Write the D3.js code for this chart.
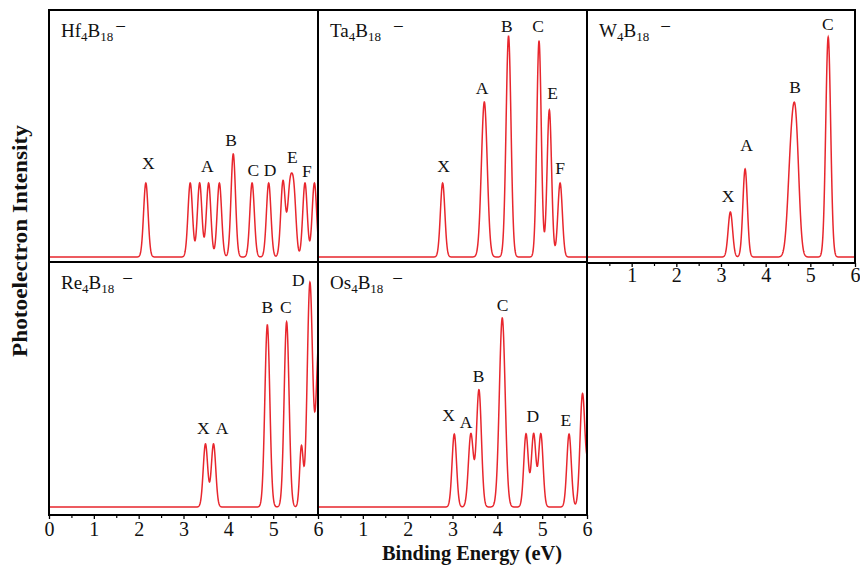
<!DOCTYPE html>
<html><head><meta charset="utf-8">
<script src="https://cdn.jsdelivr.net/npm/d3@7"></script>
<style>
body{margin:0;background:#fff}
svg{display:block}
text{font-family:"Liberation Serif","Times New Roman",serif;fill:#111}
</style>
</head><body>
<svg id="chart" width="860" height="566"></svg>
<script>
// ---------------- data (energy in eV, intensity in arbitrary units, gaussian width sigma in eV)
const metals = ["Hf", "Ta", "W", "Re", "Os"];
const energyTicks = [0, 1, 2, 3, 4, 5, 6];
const minorTicks = [0.5, 1.5, 2.5, 3.5, 4.5, 5.5];

const hfPeaks = [[2.16,74,.05],[3.15,74,.05],[3.36,74,.05],[3.56,74,.05],[3.80,74,.05],[4.11,103,.05],
                 [4.53,74,.05],[4.90,74,.05],[5.22,76,.05],[5.37,63,.05],[5.46,63,.05],[5.71,74,.05],[5.92,74,.05]];
const taPeaks = [[2.78,74,.05],[3.71,155,.065],[4.25,221,.055],[4.93,216,.05],[5.16,147,.05],[5.40,74,.05]];
const wPeaks  = [[3.21,45,.05],[3.54,88,.05],[4.57,95,.075],[4.68,110,.07],[5.40,220,.055]];
const rePeaks = [[3.49,63,.05],[3.67,63,.05],[4.87,182,.055],[5.30,185,.055],[5.63,60,.04],[5.82,224,.06],[6.02,165,.06]];
const osPeaks = [[3.04,73,.05],[3.41,73,.055],[3.59,117,.055],[4.11,189,.065],[4.64,73,.05],[4.81,73,.05],
                 [4.97,73,.05],[5.60,73,.05],[5.90,113,.055],[6.05,50,.05]];

const hfLabels = [["X",2.215,88],["A",3.53,85],["B",4.06,111],["C",4.56,81],["D",4.93,81],["E",5.43,94],["F",5.75,80]];
const taLabels = [["X",2.80,85],["A",3.66,163],["B",4.21,225],["C",4.91,225],["E",5.23,158],["F",5.40,83]];
const wLabels  = [["X",3.16,55],["A",3.57,106],["B",4.66,164],["C",5.39,227]];
const reLabels = [["X",3.44,73],["A",3.86,73],["B",4.87,194],["C",5.28,194],["D",5.56,221]];
const osLabels = [["X",2.91,86],["A",3.30,79],["B",3.58,125],["C",4.12,196],["D",4.79,85],["E",5.53,81]];

// ---------------- layout
const layout = [
  {peaks: hfPeaks, labels: hfLabels, x0: 49,  x1: 318, y0: 10,  y1: 262, base: 257, axis: null,               minusDx: 2},
  {peaks: taPeaks, labels: taLabels, x0: 318, x1: 587, y0: 10,  y1: 262, base: 257, axis: null,               minusDx: 12},
  {peaks: wPeaks,  labels: wLabels,  x0: 587, x1: 855, y0: 10,  y1: 263, base: 257, axis: [1,2,3,4,5,6],      minusDx: 11},
  {peaks: rePeaks, labels: reLabels, x0: 49,  x1: 318, y0: 262, y1: 515, base: 507, axis: energyTicks,        minusDx: 8},
  {peaks: osPeaks, labels: osLabels, x0: 318, x1: 587, y0: 262, y1: 515, base: 507, axis: [1,2,3,4,5,6],      minusDx: 9}
];

const svg = d3.select("#chart");
const red = "#e8262d";
const samples = d3.range(0, 6.0001, 0.004);

layout.forEach((p, i) => {
  const x = d3.scaleLinear().domain([0, 6]).range([p.x0, p.x1]);
  const y = d3.scaleLinear().domain([0, 247]).range([p.base, p.base - 247]);
  const g = svg.append("g");

  const clipId = "clip" + i;
  svg.append("clipPath").attr("id", clipId).append("rect")
    .attr("x", p.x0).attr("y", p.y0).attr("width", p.x1 - p.x0).attr("height", p.y1 - p.y0);

  const curve = samples.map(e => [e, d3.sum(p.peaks, k => k[1] * Math.exp(-((e - k[0]) ** 2) / (2 * k[2] * k[2])))]);
  g.append("path").datum(curve)
    .attr("clip-path", `url(#${clipId})`)
    .attr("fill", "none").attr("stroke", red).attr("stroke-width", 1.5)
    .attr("d", d3.line().x(d => x(d[0])).y(d => y(d[1])));

  // peak letters
  g.selectAll("text.lab").data(p.labels).join("text").attr("class", "lab")
    .attr("x", d => x(d[1])).attr("y", d => y(d[2]))
    .attr("text-anchor", "middle").attr("font-size", 17.5).text(d => d[0]);

  // compound title
  const t = g.append("text").attr("x", p.x0 + 12).attr("y", p.y0 + 27).attr("font-size", 19);
  t.append("tspan").text(metals[i]);
  t.append("tspan").attr("font-size", 13).attr("dy", 4).text("4");
  t.append("tspan").attr("dy", -4).text("B");
  t.append("tspan").attr("font-size", 13).attr("dy", 4).text("18");
  t.append("tspan").attr("dy", -8).attr("dx", p.minusDx).text("\u2212");

  // border
  g.append("rect").attr("x", p.x0).attr("y", p.y0).attr("width", p.x1 - p.x0).attr("height", p.y1 - p.y0)
    .attr("fill", "none").attr("stroke", "#000").attr("stroke-width", 2);

  if (p.axis) {
    const ax = g.append("g").attr("transform", `translate(0,${p.y1})`)
      .call(d3.axisBottom(x).tickValues(p.axis).tickSize(4).tickFormat(d3.format("d")));
    ax.select(".domain").remove();
    ax.selectAll("line").attr("stroke", "#000").attr("stroke-width", 1.3);
    ax.selectAll("text").attr("font-family", '"Liberation Serif","Times New Roman",serif')
      .attr("font-size", 20).attr("fill", "#111").attr("dy", null)
      .attr("y", p.y1 < 300 ? 19 : 21);
    ax.attr("font-family", null).attr("font-size", null);
    const mn = g.append("g").attr("transform", `translate(0,${p.y1})`)
      .call(d3.axisBottom(x).tickValues(minorTicks).tickSize(3).tickFormat(""));
    mn.select(".domain").remove();
    mn.selectAll("line").attr("stroke", "#000").attr("stroke-width", 1.2);
  }
});

svg.append("text").attr("x", 472).attr("y", 560).attr("text-anchor", "middle")
  .attr("font-size", 21).attr("font-weight", "bold")
  .attr("textLength", 180).attr("lengthAdjust", "spacingAndGlyphs")
  .text("Binding Energy (eV)");

svg.append("text").attr("transform", "translate(27,241) rotate(-90)").attr("text-anchor", "middle")
  .attr("font-size", 22).attr("font-weight", "bold")
  .attr("textLength", 232).attr("lengthAdjust", "spacingAndGlyphs")
  .text("Photoelectron Intensity");
</script>
</body></html>
